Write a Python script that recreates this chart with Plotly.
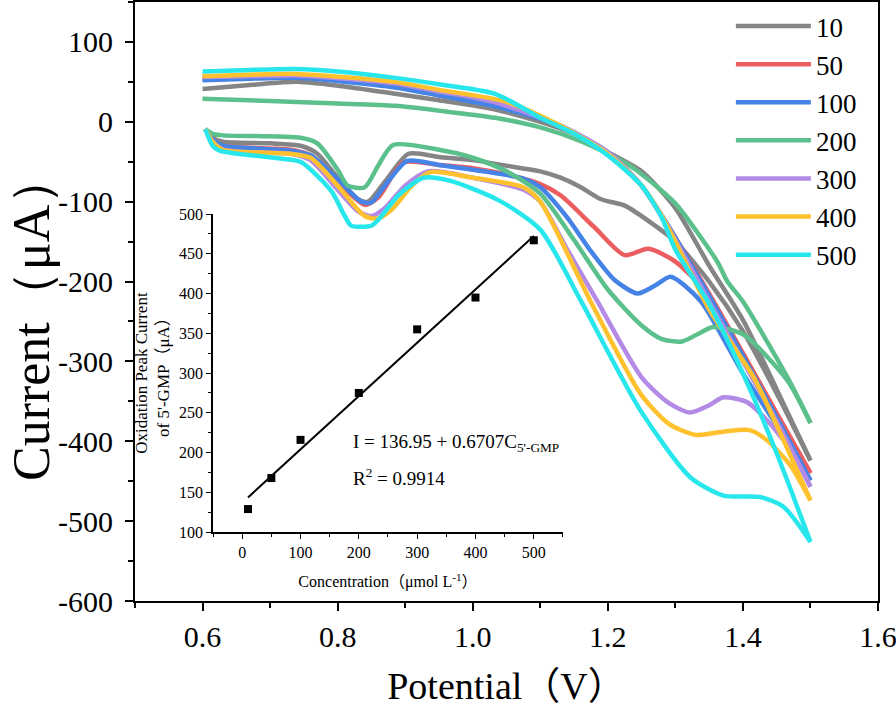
import plotly.graph_objects as go

# ---------------- data ----------------
concentrations = ["10", "50", "100", "200", "300", "400", "500"]
colors = ["#858585", "#ec5d5f", "#4583e6", "#5cc08c", "#b38ae6", "#ffc22e", "#27e6ec"]

# forward (lower) branches
v_fwd_10 = [0.604, 0.615, 0.63, 0.70, 0.745, 0.77, 0.80, 0.83, 0.845, 0.87, 0.905, 0.95, 1.00, 1.05, 1.10, 1.13, 1.16, 1.19, 1.225, 1.26, 1.30, 1.35, 1.40, 1.45, 1.50]
i_fwd_10 = [-9, -20, -25, -27, -30, -40, -70, -97, -100, -75, -40, -44, -48, -55, -62, -70, -82, -97, -105, -124, -150, -200, -262, -340, -424]
v_fwd_50 = [0.604, 0.615, 0.63, 0.73, 0.76, 0.80, 0.84, 0.86, 0.897, 0.95, 1.00, 1.05, 1.10, 1.13, 1.18, 1.225, 1.26, 1.30, 1.35, 1.40, 1.45, 1.50]
i_fwd_50 = [-9, -22, -30, -35, -42, -75, -104, -95, -51, -54, -58, -66, -78, -92, -132, -167, -159, -175, -218, -290, -365, -440]
v_fwd_100 = [0.604, 0.615, 0.63, 0.73, 0.76, 0.80, 0.835, 0.85, 0.87, 0.903, 0.95, 1.00, 1.075, 1.10, 1.14, 1.174, 1.21, 1.244, 1.27, 1.293, 1.337, 1.40, 1.45, 1.50]
i_fwd_100 = [-9, -22, -30, -36, -42, -72, -100, -101, -80, -49, -54, -60, -71, -82, -120, -161, -198, -215, -205, -194, -224, -315, -380, -449]
v_fwd_200 = [0.604, 0.615, 0.63, 0.745, 0.77, 0.80, 0.815, 0.84, 0.86, 0.882, 0.95, 1.00, 1.05, 1.10, 1.15, 1.20, 1.25, 1.28, 1.31, 1.335, 1.356, 1.40, 1.466, 1.50]
i_fwd_200 = [-9, -15, -17, -20, -27, -60, -80, -82, -55, -29, -35, -45, -62, -90, -148, -210, -255, -272, -275, -265, -257, -266, -324, -377]
v_fwd_300 = [0.604, 0.615, 0.63, 0.73, 0.76, 0.80, 0.83, 0.85, 0.87, 0.90, 0.935, 1.00, 1.075, 1.10, 1.14, 1.184, 1.25, 1.29, 1.322, 1.35, 1.371, 1.406, 1.436, 1.47, 1.50]
i_fwd_300 = [-9, -25, -35, -40, -48, -85, -112, -118, -108, -80, -62, -70, -85, -100, -160, -224, -320, -352, -364, -355, -345, -351, -374, -410, -457]
v_fwd_400 = [0.604, 0.615, 0.63, 0.73, 0.76, 0.80, 0.84, 0.86, 0.88, 0.91, 0.937, 1.00, 1.075, 1.10, 1.174, 1.248, 1.29, 1.33, 1.37, 1.41, 1.436, 1.47, 1.50]
i_fwd_400 = [-9, -25, -35, -40, -45, -80, -118, -121, -110, -80, -63, -70, -82, -100, -224, -340, -378, -392, -388, -386, -399, -430, -474]
v_fwd_500 = [0.604, 0.615, 0.625, 0.715, 0.745, 0.79, 0.81, 0.82, 0.85, 0.865, 0.89, 0.927, 0.967, 1.04, 1.10, 1.16, 1.248, 1.322, 1.371, 1.426, 1.46, 1.50]
i_fwd_500 = [-9, -30, -36, -46, -50, -86, -117, -130, -130, -118, -92, -70, -74, -99, -135, -224, -361, -445, -468, -470, -482, -526]

# reverse (upper) branches
v_rev_10 = [1.50, 1.45, 1.40, 1.35, 1.30, 1.25, 1.20, 1.15, 1.10, 1.03, 0.95, 0.885, 0.82, 0.74, 0.67, 0.60]
i_rev_10 = [-424, -335, -248, -180, -108, -62, -38, -15, 0, 16, 27, 35, 43, 50, 46, 41]
v_rev_50 = [1.50, 1.45, 1.40, 1.35, 1.30, 1.25, 1.20, 1.13, 1.03, 0.95, 0.885, 0.74, 0.67, 0.60]
i_rev_50 = [-440, -365, -290, -215, -145, -80, -40, -5, 22, 33, 46, 57, 56, 54]
v_rev_100 = [1.50, 1.45, 1.40, 1.35, 1.30, 1.25, 1.20, 1.13, 1.03, 0.95, 0.885, 0.74, 0.67, 0.60]
i_rev_100 = [-449, -370, -293, -218, -145, -80, -38, -5, 20, 33, 43, 55, 54, 52]
v_rev_200 = [1.50, 1.466, 1.40, 1.377, 1.362, 1.303, 1.278, 1.229, 1.159, 1.10, 1.033, 0.95, 0.885, 0.80, 0.70, 0.60]
i_rev_200 = [-377, -320, -225, -200, -175, -105, -85, -53, -24, -7, 5, 14, 20, 23, 26, 29]
v_rev_300 = [1.50, 1.45, 1.40, 1.35, 1.30, 1.25, 1.20, 1.13, 1.03, 0.95, 0.885, 0.74, 0.67, 0.60]
i_rev_300 = [-457, -375, -300, -225, -148, -80, -38, -5, 25, 38, 48, 58, 57, 56]
v_rev_400 = [1.50, 1.45, 1.416, 1.35, 1.30, 1.278, 1.25, 1.20, 1.13, 1.05, 0.95, 0.885, 0.74, 0.67, 0.60]
i_rev_400 = [-474, -380, -320, -235, -150, -115, -80, -40, -5, 25, 40, 50, 60, 59, 57]
v_rev_500 = [1.50, 1.45, 1.40, 1.35, 1.30, 1.28, 1.25, 1.20, 1.15, 1.10, 1.033, 0.95, 0.885, 0.80, 0.737, 0.67, 0.60]
i_rev_500 = [-526, -415, -315, -228, -160, -120, -80, -42, -15, 5, 35, 47, 55, 63, 66, 65, 63]

forward_v = [v_fwd_10, v_fwd_50, v_fwd_100, v_fwd_200, v_fwd_300, v_fwd_400, v_fwd_500]
forward_i = [i_fwd_10, i_fwd_50, i_fwd_100, i_fwd_200, i_fwd_300, i_fwd_400, i_fwd_500]
reverse_v = [v_rev_10, v_rev_50, v_rev_100, v_rev_200, v_rev_300, v_rev_400, v_rev_500]
reverse_i = [i_rev_10, i_rev_50, i_rev_100, i_rev_200, i_rev_300, i_rev_400, i_rev_500]

# inset calibration data
inset_conc = [10, 50, 100, 200, 300, 400, 500]
inset_peak = [129, 168, 216, 275, 355, 395, 467]
fit_intercept = 136.95
fit_slope = 0.6707
fit_conc = [10, 500]

# axis ticks
x_tickvals = [0.6, 0.8, 1.0, 1.2, 1.4, 1.6]
x_ticktext = ["0.6", "0.8", "1.0", "1.2", "1.4", "1.6"]
y_tickvals = [100, 0, -100, -200, -300, -400, -500, -600]
y_ticktext = ["100", "0", "-100", "-200", "-300", "-400", "-500", "-600"]

FONT = "Liberation Serif"
FONT_CJK = "Liberation Serif, Noto Sans CJK SC"

fig = go.Figure()

for k, name in enumerate(concentrations):
    fig.add_trace(go.Scatter(
        x=forward_v[k], y=forward_i[k], mode="lines", name=name,
        legendgroup=name, showlegend=True,
        line=dict(color=colors[k], width=4.5, shape="spline", smoothing=0.7),
        hoverinfo="skip"))
    fig.add_trace(go.Scatter(
        x=reverse_v[k], y=reverse_i[k], mode="lines", name=name,
        legendgroup=name, showlegend=False,
        line=dict(color=colors[k], width=4.5, shape="spline", smoothing=0.7),
        hoverinfo="skip"))

# inset
fig.add_trace(go.Scatter(
    x=inset_conc, y=inset_peak, mode="markers", xaxis="x2", yaxis="y2",
    marker=dict(symbol="square", size=8, color="black"), showlegend=False))
fig.add_trace(go.Scatter(
    x=fit_conc, y=[fit_intercept + fit_slope * c for c in fit_conc],
    mode="lines", xaxis="x2", yaxis="y2",
    line=dict(color="black", width=2), showlegend=False))

fig.add_annotation(x=186, y=212, xref="x2", yref="y2", xanchor="left", yanchor="middle",
                   text="I = 136.95 + 0.6707C<sub>5'-GMP</sub>", showarrow=False,
                   font=dict(family=FONT, size=19, color="black"))
fig.add_annotation(x=186, y=169, xref="x2", yref="y2", xanchor="left", yanchor="middle",
                   text="R<sup>2</sup> = 0.9914", showarrow=False,
                   font=dict(family=FONT, size=19, color="black"))
# main y-axis title (placed as in the reference, slightly below centre)
fig.add_annotation(x=-0.14, y=0.474, xref="paper", yref="paper", xanchor="center", yanchor="middle",
                   text="Current（μA）", textangle=-90, showarrow=False,
                   font=dict(family=FONT, size=52, color="black"))

fig.update_layout(
    width=896, height=707,
    margin=dict(l=135, r=18, t=2, b=106, autoexpand=False),
    paper_bgcolor="white", plot_bgcolor="rgba(0,0,0,0)",
    font=dict(family=FONT, color="black"),
    showlegend=True,
    legend=dict(x=0.802, y=1.0, xanchor="left", yanchor="top",
                font=dict(family=FONT, size=27, color="black"),
                bgcolor="rgba(0,0,0,0)", itemwidth=75,
                traceorder="grouped", tracegroupgap=0),
    xaxis=dict(range=[0.5, 1.6], tickmode="array", tickvals=x_tickvals, ticktext=x_ticktext,
               showline=True, linecolor="black", linewidth=2, mirror=True,
               ticks="outside", ticklen=8, tickwidth=2, tickcolor="black",
               ticklabeloverflow="allow",
               minor=dict(tickmode="linear", tick0=0.5, dtick=0.1, ticks="outside", ticklen=5, tickwidth=1.5, tickcolor="black"),
               showgrid=False, zeroline=False, automargin=False,
               tickfont=dict(family=FONT, size=30, color="black"),
               title=dict(text="Potential（V）", font=dict(family=FONT_CJK, size=38, color="black"), standoff=20)),
    yaxis=dict(range=[-600, 150], tickmode="array", tickvals=y_tickvals, ticktext=y_ticktext,
               showline=True, linecolor="black", linewidth=2, mirror=True,
               ticks="outside", ticklen=8, tickwidth=2, tickcolor="black",
               ticklabelstandoff=6,
               minor=dict(tickmode="linear", tick0=0, dtick=50, ticks="outside", ticklen=5, tickwidth=1.5, tickcolor="black"),
               showgrid=False, zeroline=False, automargin=False,
               tickfont=dict(family=FONT, size=30, color="black")),
    xaxis2=dict(domain=[0.105, 0.576], anchor="y2", range=[-50, 550], dtick=100, tick0=0,
                showline=True, linecolor="black", linewidth=1.5, mirror=False,
                ticks="outside", ticklen=5, tickwidth=1.2, tickcolor="black",
                minor=dict(dtick=50, ticks="outside", ticklen=3, tickwidth=1, tickcolor="black"),
                showgrid=False, zeroline=False, automargin=False,
                tickfont=dict(family=FONT, size=16, color="black"),
                title=dict(text="Concentration（μmol L<sup>-1</sup>）", font=dict(family=FONT_CJK, size=16, color="black"), standoff=16)),
    yaxis2=dict(domain=[0.115, 0.646], anchor="x2", range=[100, 500], dtick=50, tick0=100,
                showline=True, linecolor="black", linewidth=1.5, mirror=False,
                ticks="outside", ticklen=5, tickwidth=1.2, tickcolor="black",
                minor=dict(dtick=25, ticks="outside", ticklen=3, tickwidth=1, tickcolor="black"),
                showgrid=False, zeroline=False, automargin=False,
                tickfont=dict(family=FONT, size=16, color="black"),
                title=dict(text="Oxidation Peak Current<br>of 5'-GMP（μA）", font=dict(family=FONT_CJK, size=17, color="black"), standoff=5)),
)

fig.write_html("out.html", config={"displayModeBar": False},
               post_script="document.body.style.margin='0px';")
